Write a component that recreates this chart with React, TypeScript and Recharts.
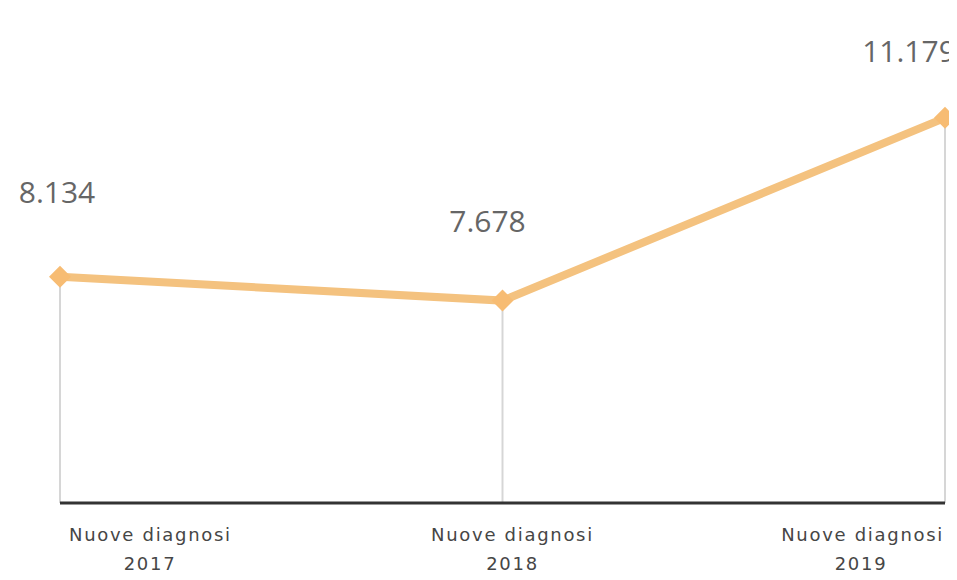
import React from "react";
import {
  LineChart,
  Line,
  XAxis,
  YAxis,
  ReferenceLine,
  LabelList,
} from "recharts";

const categories = ["Nuove diagnosi 2017", "Nuove diagnosi 2018", "Nuove diagnosi 2019"];
const diagnosi = [8134, 7678, 11179];

const data = categories.map((name, i) => ({ name, value: diagnosi[i] }));

const lineColor = "#F4C27F";
const dotColor = "#F7BC73";
const yMin = 3800;

const fmt = (v: number) => v.toLocaleString("it-IT");

// diamond marker
const Diamond = (props: any) => {
  const { cx, cy } = props;
  if (cx == null || cy == null) return null;
  const r = 11;
  return (
    <path
      d={`M${cx},${cy - r} L${cx + r},${cy} L${cx},${cy + r} L${cx - r},${cy} Z`}
      fill={dotColor}
    />
  );
};

const Tick = (props: any) => {
  const { x, y, payload, index } = props;
  const parts = String(payload.value).split(" ");
  const year = parts.pop();
  const first = parts.join(" ");
  let anchor: "start" | "middle" | "end" = "middle";
  let dx = 10;
  if (index === 0) {
    anchor = "start";
    dx = 9;
  } else if (index === categories.length - 1) {
    anchor = "end";
    dx = -1;
  }
  const yearDx = index === 0 ? 90 : index === categories.length - 1 ? -84 : 10;
  return (
    <g>
      <text
        x={x + dx}
        y={y + 30}
        textAnchor={anchor}
        letterSpacing={1.7}
        fontFamily="DejaVu Sans"
        fontSize={18}
        fill="#464646"
      >
        {first}
      </text>
      <text
        x={x + yearDx}
        y={y + 59}
        textAnchor="middle"
        letterSpacing={1.7}
        fontFamily="DejaVu Sans"
        fontSize={18}
        fill="#464646"
      >
        {year}
      </text>
    </g>
  );
};

const ValueLabel = (props: any) => {
  const { x, y, value, index } = props;
  const offsets = [-74, -69, -56];
  const dxs = [-3, -15, -36];
  return (
    <text
      x={x + dxs[index]}
      y={y + offsets[index]}
      textAnchor="middle"
      fontSize={30}
      fill="#666"
      fontFamily="Open Sans"
    >
      {fmt(value)}
    </text>
  );
};

export default function App() {
  return (
    <div style={{ margin: -8, background: "#fff", width: 957, height: 580 }}>
      <LineChart
        width={957}
        height={580}
        data={data}
        margin={{ top: 75, right: 12, left: 60, bottom: 0 }}
      >
        <XAxis
          dataKey="name"
          axisLine={{ stroke: "#333", strokeWidth: 3 }}
          tickLine={false}
          tick={<Tick />}
          height={77}
          interval={0}
        />
        <YAxis hide domain={[yMin, 12000]} />
        {data.map((d) => (
          <ReferenceLine
            key={d.name}
            segment={[
              { x: d.name, y: d.value },
              { x: d.name, y: yMin },
            ]}
            stroke="#d6d6d6"
            strokeWidth={2}
          />
        ))}
        <Line
          type="linear"
          dataKey="value"
          stroke={lineColor}
          strokeWidth={8}
          dot={<Diamond />}
          activeDot={false}
          isAnimationActive={false}
        >
          <LabelList dataKey="value" content={<ValueLabel />} />
        </Line>
      </LineChart>
    </div>
  );
}
